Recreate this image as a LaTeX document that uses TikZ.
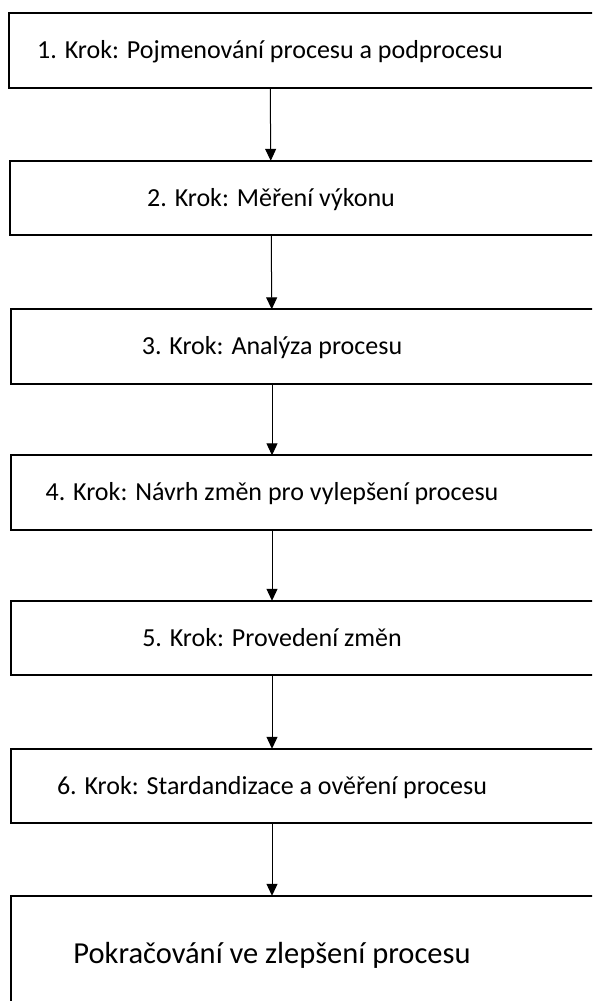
\documentclass[tikz,border=0pt]{standalone}
\usepackage{fontspec}
\setmainfont{Carlito}
\usepackage{tikz}
\usetikzlibrary{arrows.meta,positioning}

\begin{document}
\begin{tikzpicture}[
    x=1pt, y=-1pt,
    krok/.style={minimum width=522pt, minimum height=74pt, inner sep=0,
        text height=16.7pt, text depth=0pt, font=\fontsize{26}{30}\selectfont},
    konec/.style={krok, minimum height=115pt, text height=19.6pt,
        font=\fontsize{30.5}{36}\selectfont},
    ramec/.style={line width=2pt},
    sipka/.style={line width=1pt, -{Triangle[length=12pt,width=11pt]}}]
\useasboundingbox (0,0) rectangle (592,1001);
\clip (0,0) rectangle (592,1001);

\node[krok]  (s1) at (270,50.5)  {1. Krok: Pojmenování procesu a podprocesu};
\node[krok]  (s2) at (271,198)   {2. Krok: Měření výkonu};
\node[krok]  (s3) at (272,346.5) {3. Krok: Analýza procesu};
\node[krok]  (s4) at (272,492.5) {4. Krok: Návrh změn pro vylepšení procesu};
\node[krok]  (s5) at (272,638)   {5. Krok: Provedení změn};
\node[krok]  (s6) at (272,786)   {6. Krok: Stardandizace a ověření procesu};
\node[konec] (s7) at (272,953.5) {Pokračování ve zlepšení procesu};

\foreach \k in {s1,s2,s3,s4,s5,s6,s7}
    \draw[ramec] (\k.north west) rectangle ([xshift=100pt]\k.south east);

\draw[sipka] (s1) -- (s2);
\draw[sipka] (s2) -- (s3);
\draw[sipka] (s3) -- (s4);
\draw[sipka] (s4) -- (s5);
\draw[sipka] (s5) -- (s6);
\draw[sipka] (s6) -- (s7);

\end{tikzpicture}
\end{document}
